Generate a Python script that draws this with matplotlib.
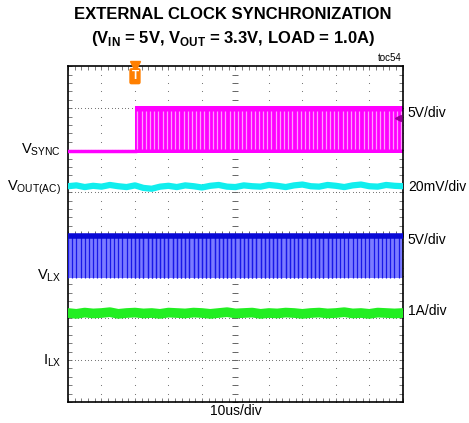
import numpy as np
import matplotlib.pyplot as plt

plt.rcParams['font.family'] = ['Liberation Sans', 'DejaVu Sans']
plt.rcParams['mathtext.fontset'] = 'custom'
plt.rcParams['mathtext.rm'] = 'Liberation Sans'

# scope screen: 10 x 8 divisions, values in divisions
sync_start = 2.0          # trigger point (div)
sync_period = 0.125       # clock period in divisions (10us/div)
sync_low, sync_high = 5.97, 7.0
lx_low, lx_high = 2.95, 3.95
vout_x = np.linspace(0, 10, 41)
vout_y = [5.14, 5.16, 5.12, 5.15, 5.13, 5.17, 5.14, 5.12, 5.16, 5.10, 5.08, 5.13,
          5.15, 5.12, 5.16, 5.14, 5.11, 5.15, 5.17, 5.13, 5.12, 5.16, 5.14, 5.13,
          5.17, 5.15, 5.12, 5.16, 5.18, 5.14, 5.13, 5.17, 5.15, 5.12, 5.16, 5.18,
          5.14, 5.13, 5.17, 5.15, 5.14]
ilx_x = np.linspace(0, 10, 41)
ilx_y = [2.12, 2.10, 2.13, 2.11, 2.12, 2.14, 2.10, 2.12, 2.13, 2.11, 2.12, 2.10,
         2.13, 2.12, 2.11, 2.13, 2.12, 2.10, 2.12, 2.14, 2.11, 2.12, 2.13, 2.10,
         2.12, 2.11, 2.13, 2.12, 2.10, 2.12, 2.13, 2.11, 2.12, 2.14, 2.11, 2.12,
         2.10, 2.13, 2.12, 2.11, 2.12]

left_labels = [(r'V$_{\mathregular{SYNC}}$', 6.0), (r'V$_{\mathregular{OUT(AC)}}$', 5.1),
               (r'V$_{\mathregular{LX}}$', 3.02), (r'I$_{\mathregular{LX}}$', 0.98)]
right_labels = [('5V/div', 6.88), ('20mV/div', 5.13), ('5V/div', 3.85), ('1A/div', 2.17)]

fig = plt.figure(figsize=(4.69, 4.23), dpi=100)
ax = fig.add_axes([0.145, 0.0496, 0.714, 0.794])
ax.set_xlim(0, 10)
ax.set_ylim(0, 8)

# graticule
for gx in range(1, 10):
    yy = np.arange(0, 8.01, 0.2)
    ax.scatter(np.full_like(yy, gx), yy, s=0.6, c='#666666', lw=0, zorder=1)
for gy in range(1, 8):
    xx = np.arange(0, 10.01, 0.1)
    ax.scatter(xx, np.full_like(xx, gy), s=0.6, c='#666666', lw=0, zorder=1)
ax.plot(np.full(41, 5.0), np.arange(0, 8.01, 0.2), ls='none', marker='_', ms=5, mew=0.7, color='#666666', zorder=1)
ax.plot(np.arange(0, 10.01, 0.2), np.full(51, 4.0), ls='none', marker='|', ms=5, mew=0.7, color='#666666', zorder=1)

ax.set_xticks(np.arange(0, 10.01, 0.2))
ax.set_yticks(np.arange(0, 8.01, 0.2))
ax.tick_params(which='both', direction='in', length=3, width=0.6, color='#666666',
               top=True, right=True, labelleft=False, labelbottom=False)
for s in ax.spines.values():
    s.set_linewidth(1.2)

edges = np.arange(sync_start, 10, sync_period)

# V_SYNC
ax.plot([0, sync_start], [sync_low, sync_low], color='#ff00ff', lw=2.5, zorder=3)
ax.fill_between([sync_start, 10], sync_low - 0.04, sync_high + 0.04, color='#ff00ff', lw=0, zorder=2)
ax.vlines(edges + 0.6 * sync_period, sync_low + 0.06, sync_high - 0.06, color='#ff9cff', lw=0.9, zorder=3)

# V_OUT ripple
ax.plot(vout_x, vout_y, color='#11eeee', lw=4.5, zorder=3)

# V_LX
lx_edges = np.concatenate([edges - 2.0, edges])
ax.fill_between([0, 10], lx_low, lx_high, color='#7b7bff', lw=0, zorder=2)
ax.vlines(lx_edges, lx_low, lx_high, color='#1818e8', lw=0.9, zorder=3)
ax.plot([0, 10], [lx_high, lx_high], color='#0a0ad6', lw=4, zorder=3)

# I_LX
ax.plot(ilx_x, ilx_y, color='#22ee22', lw=7, zorder=3)

# trigger marker and channel marker
ax.plot([sync_start], [8.0], marker='v', ms=7, color='#ff7f00', clip_on=False, zorder=5)
ax.text(sync_start, 7.76, 'T', color='white', fontsize=8.5, fontweight='bold', ha='center', va='center',
        bbox=dict(boxstyle='round,pad=0.12', fc='#ff7f00', ec='#ff7f00'), zorder=5)
ax.plot([9.85], [6.77], marker='<', ms=4, color='#990099', zorder=5)

for txt, y in left_labels:
    ax.text(-0.2, y, txt, fontsize=10.5, ha='right', va='center')
for txt, y in right_labels:
    ax.text(10.15, y, txt, fontsize=10, ha='left', va='center')

ax.text(5, -0.22, '10us/div', fontsize=10, ha='center', va='center')
ax.text(9.95, 8.2, 'toc54', fontsize=7, ha='right', va='center')
fig.text(0.497, 0.965, 'EXTERNAL CLOCK SYNCHRONIZATION', fontsize=12, fontweight='bold',
         ha='center', va='center')
fig.text(0.497, 0.91, r'(V$_{\mathregular{IN}}$ = 5V, V$_{\mathregular{OUT}}$ = 3.3V, LOAD = 1.0A)',
         fontsize=12, fontweight='bold', ha='center', va='center')

fig.savefig('out.png', dpi=100)
